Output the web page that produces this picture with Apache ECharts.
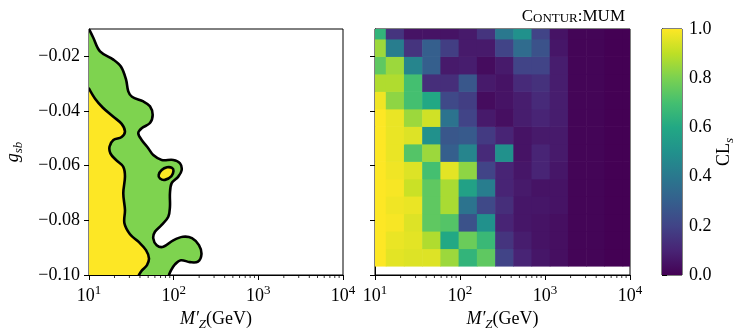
<!DOCTYPE html>
<html>
<head>
<meta charset="utf-8">
<script src="https://cdn.jsdelivr.net/npm/echarts@6/dist/echarts.min.js"></script>
<style>
html, body { margin: 0; padding: 0; background: #fff; }
#chart { width: 748px; height: 336px; }
</style>
</head>
<body>
<div id="chart"></div>
<script>
// heatmap cell edges
var massEdges = [8.2, 13.4, 21.9, 35.9, 58.8, 96.3, 158, 259, 424, 694, 1137, 1862, 3051, 4998, 8188, 13416];
var couplingEdges = [-0.0967, -0.0903, -0.0839, -0.0775, -0.0711, -0.0648, -0.0584, -0.0520, -0.0456, -0.0392, -0.0328, -0.0264, -0.0200, -0.0136, -0.0072];

// CL_s, one row per coupling bin, bottom row first
var clsRows = [
  [1.00, 0.96, 0.95, 0.95, 0.85, 0.65, 0.75, 0.20, 0.10, 0.06, 0.04, 0.01, 0.01, 0.00, 0.00],
  [1.00, 0.97, 0.96, 0.88, 0.60, 0.77, 0.67, 0.15, 0.08, 0.05, 0.04, 0.01, 0.01, 0.00, 0.00],
  [1.00, 0.99, 0.95, 0.75, 0.73, 0.25, 0.50, 0.10, 0.06, 0.05, 0.04, 0.01, 0.01, 0.00, 0.00],
  [1.00, 0.98, 0.97, 0.75, 0.87, 0.38, 0.22, 0.13, 0.06, 0.06, 0.05, 0.01, 0.01, 0.00, 0.00],
  [1.00, 0.99, 0.92, 0.75, 0.87, 0.57, 0.42, 0.10, 0.07, 0.05, 0.05, 0.01, 0.01, 0.00, 0.00],
  [1.00, 0.98, 0.95, 0.70, 0.96, 0.83, 0.20, 0.10, 0.06, 0.10, 0.06, 0.01, 0.01, 0.00, 0.00],
  [1.00, 0.97, 0.73, 0.85, 0.30, 0.45, 0.12, 0.50, 0.05, 0.10, 0.07, 0.01, 0.01, 0.00, 0.00],
  [1.00, 0.97, 0.95, 0.50, 0.27, 0.28, 0.17, 0.10, 0.05, 0.07, 0.07, 0.01, 0.01, 0.00, 0.00],
  [1.00, 0.97, 0.85, 0.93, 0.38, 0.20, 0.07, 0.04, 0.08, 0.10, 0.08, 0.01, 0.01, 0.00, 0.00],
  [0.98, 0.83, 0.70, 0.60, 0.22, 0.18, 0.03, 0.05, 0.08, 0.12, 0.08, 0.01, 0.01, 0.00, 0.00],
  [0.88, 0.88, 0.70, 0.13, 0.13, 0.27, 0.07, 0.05, 0.12, 0.14, 0.08, 0.01, 0.01, 0.00, 0.00],
  [0.75, 0.85, 0.45, 0.30, 0.07, 0.08, 0.03, 0.07, 0.20, 0.20, 0.08, 0.01, 0.01, 0.00, 0.00],
  [0.85, 0.42, 0.15, 0.30, 0.18, 0.07, 0.07, 0.20, 0.35, 0.25, 0.06, 0.01, 0.01, 0.00, 0.00],
  [0.65, 0.15, 0.05, 0.05, 0.05, 0.07, 0.15, 0.40, 0.50, 0.20, 0.05, 0.01, 0.01, 0.00, 0.00]
];

// contour lines [M (GeV), g_sb]
var outerContour = [
  [10.0, -0.0100], [11.2, -0.0131], [13.5, -0.0182], [19.4, -0.0212], [23.9, -0.0238], [27.4, -0.0285],
  [29.1, -0.0328], [32.2, -0.0348], [43.8, -0.0365], [52.5, -0.0383], [56.5, -0.0414], [52.5, -0.0444],
  [41.9, -0.0463], [38.2, -0.0481], [41.9, -0.0506], [50.1, -0.0536], [57.4, -0.0561], [72.2, -0.0579],
  [98.9, -0.0579], [118.7, -0.0591], [124.3, -0.0616], [113.3, -0.0640], [94.7, -0.0664], [90.4, -0.0701],
  [90.4, -0.0750], [86.4, -0.0787], [72.2, -0.0817], [60.1, -0.0842], [57.4, -0.0866], [63.0, -0.0891],
  [75.4, -0.0897], [98.9, -0.0873], [128.8, -0.0860], [164.5, -0.0865], [198.9, -0.0891], [212.9, -0.0924],
  [193.6, -0.0951], [155.8, -0.0953], [121.9, -0.0946], [103.6, -0.0961], [92.9, -0.0983], [88.0, -0.1000]
];
var innerContour = [
  [10.0, -0.0318], [11.8, -0.0355], [14.6, -0.0388], [19.4, -0.0421], [24.3, -0.0447], [26.6, -0.0475],
  [24.3, -0.0495], [19.4, -0.0506], [17.5, -0.0530], [17.9, -0.0555], [20.8, -0.0579], [25.4, -0.0604],
  [26.6, -0.0640], [25.4, -0.0701], [26.6, -0.0762], [26.2, -0.0811], [30.5, -0.0851], [38.9, -0.0880],
  [47.1, -0.0909], [51.1, -0.0939], [48.4, -0.0964], [42.2, -0.0983], [38.9, -0.1000]
];
var islandContour = [
  [66.5, -0.0634], [72.2, -0.0616], [83.4, -0.0606], [95.5, -0.0608],
  [99.5, -0.0619], [94.2, -0.0638], [78.9, -0.0652], [68.9, -0.0647]
];

var massTicks = [10, 100, 1000, 10000];
var massMinorTicks = [20, 30, 40, 50, 60, 70, 80, 90, 200, 300, 400, 500, 600, 700, 800, 900,
  2000, 3000, 4000, 5000, 6000, 7000, 8000, 9000];
var couplingTicks = [-0.10, -0.08, -0.06, -0.04, -0.02];
var clsTicks = [0, 0.2, 0.4, 0.6, 0.8, 1.0];

var viridis = ['#440154', '#482475', '#414487', '#355f8d', '#2a788e', '#21918c',
  '#22a884', '#44bf70', '#7ad151', '#bddf26', '#fde725'];

var FONT = 'Liberation Serif';
var GREEN = '#7ed34f', YELLOW = '#fde725';

var heatData = [];
clsRows.forEach(function (row, j) {
  row.forEach(function (v, i) {
    heatData.push([Math.sqrt(massEdges[i] * massEdges[i + 1]),
      (couplingEdges[j] + couplingEdges[j + 1]) / 2, v, i, j]);
  });
});

function powerLabel(v) {
  var e = Math.round(Math.log(v) / Math.LN10);
  return '{b|10}{s|' + e + '}';
}
function coupLabel(v) {
  return (v < 0 ? '\u2212' : '') + Math.abs(v).toFixed(2);
}

var supRich = {
  b: { fontFamily: FONT, fontSize: 18, color: '#000', verticalAlign: 'bottom' },
  s: { fontFamily: FONT, fontSize: 13, color: '#000', verticalAlign: 'bottom', padding: [0, 0, 8, 0] }
};
var massName = '{m|M\u2032}{z|Z}{t|(GeV)}';
var massNameStyle = {
  rich: {
    m: { fontFamily: FONT, fontSize: 18, fontStyle: 'italic', color: '#000', verticalAlign: 'top' },
    z: { fontFamily: FONT, fontSize: 13, fontStyle: 'italic', color: '#000', verticalAlign: 'top', padding: [8, 0, 0, 0] },
    t: { fontFamily: FONT, fontSize: 18, color: '#000', verticalAlign: 'top' }
  }
};

function massAxis(grid) {
  return {
    type: 'log', logBase: 10, gridIndex: grid, min: 10, max: 10000, position: 'bottom',
    axisLine: { show: true, onZero: false, lineStyle: { color: '#000', width: 1 } },
    axisTick: { show: true, customValues: massTicks, length: 5, lineStyle: { color: '#000' } },
    axisLabel: { customValues: massTicks, formatter: powerLabel, margin: 9, rich: supRich },
    splitLine: { show: false },
    name: massName, nameLocation: 'middle', nameGap: 34, nameTextStyle: massNameStyle
  };
}
function coupAxis(grid, withLabels) {
  return {
    type: 'value', gridIndex: grid, min: -0.1, max: -0.01,
    axisLine: { show: true, onZero: false, lineStyle: { color: '#000' } },
    axisTick: { show: true, customValues: couplingTicks, length: 5, lineStyle: { color: '#000' } },
    axisLabel: {
      show: withLabels, customValues: couplingTicks, formatter: coupLabel,
      fontFamily: FONT, fontSize: 18, color: '#000', margin: 9
    },
    splitLine: { show: false },
    name: withLabels ? '{g|g}{s|sb}' : '', nameLocation: 'middle', nameRotate: 90, nameGap: 64,
    nameTextStyle: {
      rich: {
        g: { fontFamily: FONT, fontSize: 18, fontStyle: 'italic', color: '#000', verticalAlign: 'top' },
        s: { fontFamily: FONT, fontSize: 13, fontStyle: 'italic', color: '#000', verticalAlign: 'top', padding: [8, 0, 0, 0] }
      }
    }
  };
}

// helper points outside the plot so the fills reach the frame
function padFill(line, startOnLeft) {
  var last = line[line.length - 1];
  var extra = [[last[0], -0.115], [6, -0.115]];
  extra.push(startOnLeft ? [6, line[0][1]] : [6, -0.002]);
  return line.concat(extra);
}

function renderContours(params, api) {
  function pts(arr) { return arr.map(function (p) { return api.coord(p); }); }
  var sm = 0.35;
  var line = { stroke: '#000', lineWidth: 2.6, fill: null, lineJoin: 'round', lineCap: 'round' };
  return {
    type: 'group',
    children: [
      { type: 'polygon', shape: { points: pts(padFill(outerContour, false)), smooth: sm }, style: { fill: GREEN } },
      { type: 'polygon', shape: { points: pts(padFill(innerContour, true)), smooth: sm }, style: { fill: YELLOW } },
      { type: 'polygon', shape: { points: pts(islandContour), smooth: 0.4 },
        style: { fill: YELLOW, stroke: '#000', lineWidth: 2.6, lineJoin: 'round' } },
      { type: 'polyline', shape: { points: pts(outerContour), smooth: sm }, style: line },
      { type: 'polyline', shape: { points: pts(innerContour), smooth: sm }, style: line }
    ]
  };
}

function renderCell(params, api) {
  var i = api.value(3), j = api.value(4);
  var p0 = api.coord([massEdges[i], couplingEdges[j + 1]]);
  var p1 = api.coord([massEdges[i + 1], couplingEdges[j]]);
  return {
    type: 'rect',
    shape: { x: p0[0], y: p0[1], width: p1[0] - p0[0] + 0.6, height: p1[1] - p0[1] + 0.6 },
    style: { fill: api.visual('color') }
  };
}

// minor ticks of the log axes, hanging below the frame
function renderMinorTick(params, api) {
  var p = api.coord([api.value(0), api.value(1)]);
  return {
    type: 'line',
    shape: { x1: p[0], y1: p[1], x2: p[0], y2: p[1] + 3 },
    style: { stroke: '#000', lineWidth: 0.8 }
  };
}

function renderColorbar(params, api) {
  var p0 = api.coord([0, 1]);
  var p1 = api.coord([1, 0]);
  var stops = viridis.map(function (c, k) { return { offset: k / (viridis.length - 1), color: c }; });
  return {
    type: 'rect',
    shape: { x: p0[0], y: p0[1], width: p1[0] - p0[0], height: p1[1] - p0[1] },
    style: { fill: new echarts.graphic.LinearGradient(0, 1, 0, 0, stops) }
  };
}

var minorTickData = massMinorTicks.map(function (m) { return [m, -0.1]; });

var option = {
  animation: false,
  backgroundColor: '#fff',
  title: {
    text: '{a|C}{b|ONTUR}{a|:MUM}',
    right: 118, top: 3,
    textStyle: {
      fontWeight: 'normal',
      rich: {
        a: { fontFamily: FONT, fontSize: 17, fontWeight: 'normal', color: '#000', verticalAlign: 'bottom' },
        b: { fontFamily: FONT, fontSize: 13, fontWeight: 'normal', color: '#000', verticalAlign: 'bottom' }
      }
    }
  },
  grid: [
    { left: 89, top: 29, width: 254, height: 246, show: true, borderColor: '#000', borderWidth: 1, backgroundColor: 'transparent' },
    { left: 375, top: 29, width: 255, height: 246, show: true, borderColor: '#000', borderWidth: 1, backgroundColor: 'transparent' },
    { left: 662, top: 29, width: 20, height: 246, show: true, borderColor: '#000', borderWidth: 1, backgroundColor: 'transparent' }
  ],
  xAxis: [
    massAxis(0), massAxis(1),
    { type: 'value', gridIndex: 2, min: 0, max: 1, show: false }
  ],
  yAxis: [
    coupAxis(0, true), coupAxis(1, false),
    {
      type: 'value', gridIndex: 2, min: 0, max: 1, position: 'right',
      axisLine: { show: true, lineStyle: { color: '#000' } },
      axisTick: { show: true, customValues: clsTicks, length: 5, lineStyle: { color: '#000' } },
      axisLabel: {
        customValues: clsTicks, formatter: function (v) { return v.toFixed(1); },
        fontFamily: FONT, fontSize: 18, color: '#000', margin: 7
      },
      splitLine: { show: false },
      name: '{c|CL}{s|s}', nameLocation: 'middle', nameRotate: 90, nameGap: 22,
      nameTextStyle: {
        rich: {
          c: { fontFamily: FONT, fontSize: 18, color: '#000', verticalAlign: 'top' },
          s: { fontFamily: FONT, fontSize: 13, fontStyle: 'italic', color: '#000', verticalAlign: 'top', padding: [8, 0, 0, 0] }
        }
      }
    }
  ],
  visualMap: {
    type: 'continuous', show: false, min: 0, max: 1, dimension: 2, seriesIndex: 1,
    inRange: { color: viridis }
  },
  series: [
    {
      type: 'custom', xAxisIndex: 0, yAxisIndex: 0, clip: true, silent: true,
      data: [[100, -0.05]], encode: { x: 0, y: 1 },
      renderItem: renderContours
    },
    {
      type: 'custom', xAxisIndex: 1, yAxisIndex: 1, clip: true, silent: true,
      data: heatData, encode: { x: 0, y: 1 },
      renderItem: renderCell
    },
    {
      type: 'custom', xAxisIndex: 2, yAxisIndex: 2, clip: true, silent: true,
      data: [[0.5, 0.5]], encode: { x: 0, y: 1 },
      renderItem: renderColorbar
    },
    {
      type: 'custom', xAxisIndex: 0, yAxisIndex: 0, clip: false, silent: true,
      data: minorTickData, encode: { x: 0, y: 1 },
      renderItem: renderMinorTick
    },
    {
      type: 'custom', xAxisIndex: 1, yAxisIndex: 1, clip: false, silent: true,
      data: minorTickData, encode: { x: 0, y: 1 },
      renderItem: renderMinorTick
    }
  ]
};

var chart = echarts.init(document.getElementById('chart'));
chart.setOption(option);
</script>
</body>
</html>
